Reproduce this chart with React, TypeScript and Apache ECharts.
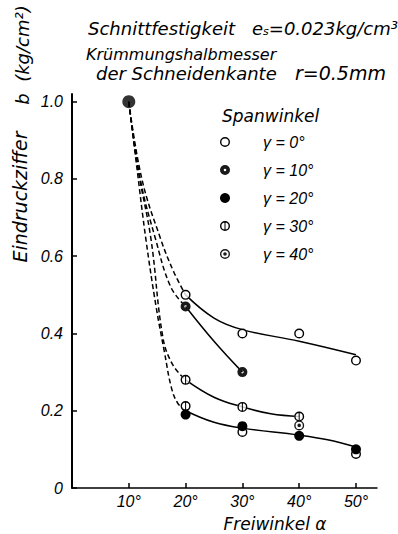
import React, { useEffect, useRef } from "react";
import * as echarts from "echarts";

const FONT = "'Liberation Sans', 'DejaVu Sans', sans-serif";
const DFONT = "'DejaVu Sans', 'Liberation Sans', sans-serif";

const xTicks = [10, 20, 30, 40, 50];
const yTicks = [0, 0.2, 0.4, 0.6, 0.8, 1.0];
const gammaLabels = ["γ = 0°", "γ = 10°", "γ = 20°", "γ = 30°", "γ = 40°"];

// common start point at α = 10°
const startPoint = [[10, 1.0]];

// measured points per rake angle γ
const pts0 = [[20, 0.5], [30, 0.4], [40, 0.4], [50, 0.33], [30, 0.145], [50, 0.088]];
const pts10 = [[20, 0.47], [30, 0.3]];
const pts20 = [[20, 0.19], [30, 0.16], [40, 0.135], [50, 0.1]];
const pts30 = [[20, 0.28], [30, 0.21], [40, 0.185], [20, 0.212]];
const pts40 = [[40, 0.162]];

// dashed (extrapolated) curves from 10° to 20°
const dashA = [[10, 1.0], [12.3, 0.8], [15.6, 0.645], [17.9, 0.56], [20, 0.5]];
const dashB = [[10, 1.0], [12.0, 0.8], [14.7, 0.645], [17.4, 0.52], [20, 0.47]];
const dashC = [[10, 1.0], [11.7, 0.82], [13.9, 0.645], [16.0, 0.39], [17.7, 0.32], [20, 0.28]];
const dashD = [[10, 1.0], [11.5, 0.82], [13.0, 0.645], [14.8, 0.47], [16.3, 0.35], [17.5, 0.26], [18.6, 0.22], [20, 0.2]];

// solid fitted curves
const solidA = [[20, 0.5], [25, 0.44], [30, 0.41], [40, 0.38], [50, 0.345]];
const solidB = [[20, 0.47], [25, 0.38], [30, 0.3]];
const solidC = [[20, 0.28], [25, 0.235], [30, 0.21], [35, 0.192], [40, 0.185]];
const solidD = [[20, 0.2], [25, 0.17], [30, 0.155], [40, 0.137], [45, 0.125], [50, 0.106]];

const OUTER = "M0 10A10 10 0 1 1 20 10A10 10 0 1 1 0 10Z";
const HOLE = "M2.8 10A7.2 7.2 0 1 0 17.2 10A7.2 7.2 0 1 0 2.8 10Z";
const SYM0 = "path://" + OUTER + HOLE;
const SYM10 = "path://" + OUTER + "M7.4 10A2.6 2.6 0 1 0 12.6 10A2.6 2.6 0 1 0 7.4 10Z";
const SYM30 = "path://" + OUTER + HOLE + "M9 2.9L11 2.9L11 17.1L9 17.1Z";
const SYM40 = "path://" + OUTER + HOLE + "M6.4 10A3.6 3.6 0 1 1 13.6 10A3.6 3.6 0 1 1 6.4 10Z";

export default function App() {
  const ref = useRef<HTMLDivElement>(null);
  useEffect(() => {
    if (!ref.current) return;
    const chart = echarts.init(ref.current, undefined, { renderer: "svg" });
    const lineS = (name: string, data: number[][], dashed: boolean) => ({
      name,
      type: "line",
      data,
      smooth: 0.4,
      showSymbol: false,
      silent: true,
      z: 1,
      lineStyle: { color: "#000", width: 1.5, type: dashed ? [5, 3] : "solid" },
    });
    const backing = (name: string, data: number[][]) => ({
      name,
      type: "scatter",
      data,
      symbol: "circle",
      symbolSize: 10,
      silent: true,
      z: 2,
      itemStyle: { color: "#fff" },
    });
    const marks = (name: string, data: number[][], symbol: string, color: string) => ({
      name,
      type: "scatter",
      data,
      symbol,
      symbolSize: 10,
      z: 3,
      itemStyle: { color, opacity: 1 },
    });
    const txt = (text: string, x: number, y: number, size: number, family: string, extra: any = {}) => ({
      type: "text",
      x,
      y,
      style: {
        text,
        fontSize: size,
        fontStyle: "italic",
        fontFamily: family,
        fill: "#000",
        textVerticalAlign: "middle",
        ...extra,
      },
    });
    chart.setOption({
      animation: false,
      backgroundColor: "#fff",
      grid: { left: 72, right: 21, top: 94, bottom: 46, containLabel: false },
      xAxis: {
        type: "value",
        min: 0,
        max: 53.7,
        splitLine: { show: false },
        axisLine: { lineStyle: { color: "#000", width: 1.5 } },
        axisTick: { inside: true, length: 5, customValues: xTicks, lineStyle: { color: "#000", width: 1.5 } },
        axisLabel: {
          customValues: xTicks,
          formatter: (v: number) => `${v}°`,
          color: "#000",
          fontSize: 16,
          fontStyle: "italic",
          fontFamily: FONT,
          margin: 5,
        },
      },
      yAxis: {
        type: "value",
        min: 0,
        max: 1.02,
        splitLine: { show: false },
        axisLine: { show: true, lineStyle: { color: "#000", width: 2 } },
        axisTick: { show: true, inside: true, length: 5, customValues: yTicks, lineStyle: { color: "#000", width: 1.5 } },
        axisLabel: {
          customValues: yTicks,
          formatter: (v: number) => (v === 0 ? "0" : v.toFixed(1)),
          color: "#000",
          fontSize: 16,
          fontStyle: "italic",
          fontFamily: FONT,
          margin: 9,
        },
      },
      legend: {
        data: gammaLabels.map((name) => ({ name })),
        orient: "vertical",
        left: 215,
        top: 128,
        itemWidth: 66,
        itemHeight: 10,
        itemGap: 10,
        selectedMode: false,
        textStyle: { fontSize: 16, fontStyle: "italic", fontFamily: FONT, color: "#000", lineHeight: 18 },
      },
      graphic: [
        txt("Schnittfestigkeit", 88, 28, 18, DFONT),
        {
          type: "text",
          x: 252,
          y: 28,
          style: {
            text: "e{s|s}=0.023kg/cm³",
            fontSize: 18,
            fontStyle: "italic",
            fontFamily: DFONT,
            fill: "#000",
            textVerticalAlign: "middle",
            rich: { s: { fontSize: 11, fontStyle: "italic", fontFamily: DFONT, fill: "#000", padding: [7, 0, 0, 0] } },
          },
        },
        txt("Krümmungshalbmesser", 86, 54, 16, DFONT),
        txt("der Schneidenkante", 96, 73, 18, DFONT),
        txt("r=0.5mm", 295, 73, 19, DFONT),
        txt("Spanwinkel", 222, 116, 17, DFONT),
        {
          type: "text",
          x: 20,
          y: 197,
          rotation: Math.PI / 2,
          style: { text: "Eindruckziffer", fontSize: 19, fontStyle: "italic", fontFamily: DFONT, fill: "#000", textAlign: "center", textVerticalAlign: "middle" },
        },
        {
          type: "text",
          x: 22,
          y: 55,
          rotation: Math.PI / 2,
          style: { text: "b  (kg/cm²)", fontSize: 18, fontStyle: "italic", fontFamily: DFONT, fill: "#000", textAlign: "center", textVerticalAlign: "middle" },
        },
        txt("Freiwinkel α", 275, 524, 17, DFONT, { textAlign: "center" }),
      ],
      series: [
        lineS("dA", dashA, true),
        lineS("dB", dashB, true),
        lineS("dC", dashC, true),
        lineS("dD", dashD, true),
        lineS("sA", solidA, false),
        lineS("sB", solidB, false),
        lineS("sC", solidC, false),
        lineS("sD", solidD, false),
        backing("b0", pts0),
        backing("b30", pts30),
        backing("b40", pts40),
        marks(gammaLabels[0], pts0, SYM0, "#000"),
        marks(gammaLabels[1], pts10, SYM10, "#1a1a1a"),
        marks(gammaLabels[2], pts20, "circle", "#000"),
        marks(gammaLabels[3], pts30, SYM30, "#000"),
        marks(gammaLabels[4], pts40, SYM40, "#1a1a1a"),
        {
          name: "start",
          type: "scatter",
          data: startPoint,
          symbol: "circle",
          symbolSize: 13,
          z: 4,
          itemStyle: { color: "#000" },
        },
      ],
    });
    return () => chart.dispose();
  }, []);
  return <div ref={ref} style={{ position: "absolute", left: 0, top: 0, width: 398, height: 534 }} />;
}
